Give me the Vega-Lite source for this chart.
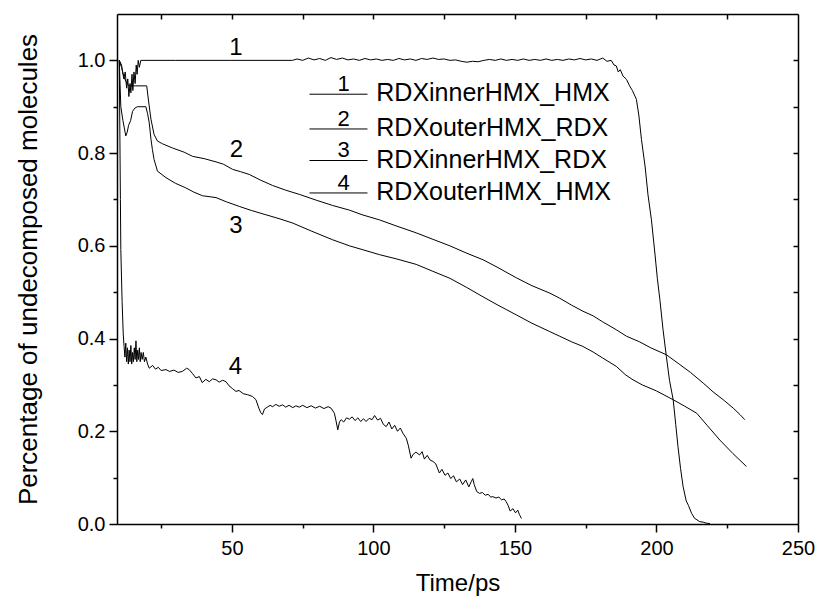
{
  "$schema": "https://vega.github.io/schema/vega-lite/v6.json",
  "width": 681,
  "height": 510,
  "autosize": "none",
  "padding": {"left": 117, "top": 14, "right": 20, "bottom": 78},
  "background": "white",
  "datasets": {
    "curves": [
      {"s":"RDXinnerHMX_HMX","t":10.2,"v":1.0},{"s":"RDXinnerHMX_HMX","t":11.0,"v":0.99},{"s":"RDXinnerHMX_HMX","t":11.8,"v":0.96},{"s":"RDXinnerHMX_HMX","t":12.3,"v":0.975},{"s":"RDXinnerHMX_HMX","t":12.8,"v":0.94},{"s":"RDXinnerHMX_HMX","t":13.2,"v":0.96},{"s":"RDXinnerHMX_HMX","t":13.6,"v":0.922},{"s":"RDXinnerHMX_HMX","t":14.0,"v":0.95},{"s":"RDXinnerHMX_HMX","t":14.3,"v":0.93},{"s":"RDXinnerHMX_HMX","t":14.7,"v":0.97},{"s":"RDXinnerHMX_HMX","t":15.0,"v":0.935},{"s":"RDXinnerHMX_HMX","t":15.4,"v":0.975},{"s":"RDXinnerHMX_HMX","t":15.8,"v":0.95},{"s":"RDXinnerHMX_HMX","t":16.2,"v":0.99},{"s":"RDXinnerHMX_HMX","t":16.5,"v":0.97},{"s":"RDXinnerHMX_HMX","t":16.9,"v":1.0},{"s":"RDXinnerHMX_HMX","t":17.3,"v":0.985},{"s":"RDXinnerHMX_HMX","t":17.8,"v":1.0},{"s":"RDXinnerHMX_HMX","t":30,"v":1.0},{"s":"RDXinnerHMX_HMX","t":50,"v":1.0},{"s":"RDXinnerHMX_HMX","t":71.4,"v":1.0},
      {"s":"RDXinnerHMX_HMX","t":73,"v":1.003},{"s":"RDXinnerHMX_HMX","t":75,"v":1.0},{"s":"RDXinnerHMX_HMX","t":77,"v":1.005},{"s":"RDXinnerHMX_HMX","t":79,"v":1.001},{"s":"RDXinnerHMX_HMX","t":81,"v":1.004},{"s":"RDXinnerHMX_HMX","t":83,"v":1.0},{"s":"RDXinnerHMX_HMX","t":85,"v":1.006},{"s":"RDXinnerHMX_HMX","t":87,"v":1.002},{"s":"RDXinnerHMX_HMX","t":89,"v":1.005},{"s":"RDXinnerHMX_HMX","t":91,"v":1.001},{"s":"RDXinnerHMX_HMX","t":93,"v":1.003},{"s":"RDXinnerHMX_HMX","t":95,"v":1.0},{"s":"RDXinnerHMX_HMX","t":97,"v":1.004},{"s":"RDXinnerHMX_HMX","t":99,"v":1.001},{"s":"RDXinnerHMX_HMX","t":101,"v":1.003},{"s":"RDXinnerHMX_HMX","t":103,"v":1.0},{"s":"RDXinnerHMX_HMX","t":105,"v":1.002},{"s":"RDXinnerHMX_HMX","t":107,"v":1.0},{"s":"RDXinnerHMX_HMX","t":109,"v":1.004},{"s":"RDXinnerHMX_HMX","t":111,"v":1.001},{"s":"RDXinnerHMX_HMX","t":113,"v":1.003},{"s":"RDXinnerHMX_HMX","t":115,"v":1.0},{"s":"RDXinnerHMX_HMX","t":117,"v":1.004},{"s":"RDXinnerHMX_HMX","t":119,"v":1.002},{"s":"RDXinnerHMX_HMX","t":121,"v":1.005},{"s":"RDXinnerHMX_HMX","t":123,"v":1.002},{"s":"RDXinnerHMX_HMX","t":125,"v":1.003},{"s":"RDXinnerHMX_HMX","t":127,"v":1.0},{"s":"RDXinnerHMX_HMX","t":129,"v":1.001},{"s":"RDXinnerHMX_HMX","t":131,"v":0.998},{"s":"RDXinnerHMX_HMX","t":133,"v":0.996},{"s":"RDXinnerHMX_HMX","t":135,"v":0.998},{"s":"RDXinnerHMX_HMX","t":137,"v":0.997},{"s":"RDXinnerHMX_HMX","t":139,"v":1.0},{"s":"RDXinnerHMX_HMX","t":141,"v":1.002},{"s":"RDXinnerHMX_HMX","t":143,"v":1.0},{"s":"RDXinnerHMX_HMX","t":145,"v":1.003},{"s":"RDXinnerHMX_HMX","t":147,"v":1.0},{"s":"RDXinnerHMX_HMX","t":149,"v":1.002},{"s":"RDXinnerHMX_HMX","t":151,"v":1.0},{"s":"RDXinnerHMX_HMX","t":153,"v":1.003},{"s":"RDXinnerHMX_HMX","t":155,"v":1.0},{"s":"RDXinnerHMX_HMX","t":157,"v":1.002},{"s":"RDXinnerHMX_HMX","t":159,"v":1.0},{"s":"RDXinnerHMX_HMX","t":161,"v":1.003},{"s":"RDXinnerHMX_HMX","t":163,"v":1.0},{"s":"RDXinnerHMX_HMX","t":165,"v":1.002},{"s":"RDXinnerHMX_HMX","t":167,"v":1.0},{"s":"RDXinnerHMX_HMX","t":169,"v":1.003},{"s":"RDXinnerHMX_HMX","t":171,"v":1.001},{"s":"RDXinnerHMX_HMX","t":173,"v":1.004},{"s":"RDXinnerHMX_HMX","t":175,"v":1.001},{"s":"RDXinnerHMX_HMX","t":177,"v":1.003},{"s":"RDXinnerHMX_HMX","t":179,"v":1.0},{"s":"RDXinnerHMX_HMX","t":181,"v":1.005},{"s":"RDXinnerHMX_HMX","t":182.5,"v":0.998},{"s":"RDXinnerHMX_HMX","t":184,"v":1.0},{"s":"RDXinnerHMX_HMX","t":185,"v":0.99},{"s":"RDXinnerHMX_HMX","t":185.8,"v":0.988},{"s":"RDXinnerHMX_HMX","t":186.5,"v":0.975},{"s":"RDXinnerHMX_HMX","t":187.2,"v":0.98},{"s":"RDXinnerHMX_HMX","t":188.2,"v":0.966},{"s":"RDXinnerHMX_HMX","t":189.4,"v":0.959},{"s":"RDXinnerHMX_HMX","t":190.5,"v":0.945},{"s":"RDXinnerHMX_HMX","t":191.5,"v":0.935},{"s":"RDXinnerHMX_HMX","t":192.9,"v":0.916},{"s":"RDXinnerHMX_HMX","t":193.8,"v":0.88},{"s":"RDXinnerHMX_HMX","t":194.7,"v":0.829},{"s":"RDXinnerHMX_HMX","t":196,"v":0.77},{"s":"RDXinnerHMX_HMX","t":197,"v":0.71},{"s":"RDXinnerHMX_HMX","t":198.2,"v":0.657},{"s":"RDXinnerHMX_HMX","t":199.5,"v":0.58},{"s":"RDXinnerHMX_HMX","t":200.3,"v":0.53},{"s":"RDXinnerHMX_HMX","t":201.2,"v":0.484},{"s":"RDXinnerHMX_HMX","t":202.3,"v":0.42},{"s":"RDXinnerHMX_HMX","t":203.5,"v":0.361},{"s":"RDXinnerHMX_HMX","t":204.6,"v":0.31},{"s":"RDXinnerHMX_HMX","t":205.9,"v":0.268},{"s":"RDXinnerHMX_HMX","t":206.8,"v":0.215},{"s":"RDXinnerHMX_HMX","t":207.6,"v":0.167},{"s":"RDXinnerHMX_HMX","t":208.5,"v":0.12},{"s":"RDXinnerHMX_HMX","t":209.4,"v":0.081},{"s":"RDXinnerHMX_HMX","t":210.5,"v":0.05},{"s":"RDXinnerHMX_HMX","t":211.3,"v":0.04},{"s":"RDXinnerHMX_HMX","t":212.4,"v":0.023},{"s":"RDXinnerHMX_HMX","t":213.5,"v":0.012},{"s":"RDXinnerHMX_HMX","t":214.3,"v":0.009},{"s":"RDXinnerHMX_HMX","t":215.3,"v":0.005},{"s":"RDXinnerHMX_HMX","t":216.5,"v":0.004},{"s":"RDXinnerHMX_HMX","t":217.5,"v":0.002},{"s":"RDXinnerHMX_HMX","t":218.9,"v":0.001},

      {"s":"RDXouterHMX_RDX","t":10.2,"v":1.0},{"s":"RDXouterHMX_RDX","t":11.0,"v":0.985},{"s":"RDXouterHMX_RDX","t":11.8,"v":0.965},{"s":"RDXouterHMX_RDX","t":12.5,"v":0.955},{"s":"RDXouterHMX_RDX","t":13.2,"v":0.948},{"s":"RDXouterHMX_RDX","t":13.7,"v":0.945},{"s":"RDXouterHMX_RDX","t":16,"v":0.945},{"s":"RDXouterHMX_RDX","t":19.9,"v":0.945},{"s":"RDXouterHMX_RDX","t":20.6,"v":0.91},{"s":"RDXouterHMX_RDX","t":21.4,"v":0.873},{"s":"RDXouterHMX_RDX","t":22.5,"v":0.84},{"s":"RDXouterHMX_RDX","t":23.7,"v":0.826},{"s":"RDXouterHMX_RDX","t":25.5,"v":0.82},{"s":"RDXouterHMX_RDX","t":29.0,"v":0.811},{"s":"RDXouterHMX_RDX","t":33.1,"v":0.802},{"s":"RDXouterHMX_RDX","t":36.1,"v":0.793},{"s":"RDXouterHMX_RDX","t":40.2,"v":0.788},{"s":"RDXouterHMX_RDX","t":44.4,"v":0.781},{"s":"RDXouterHMX_RDX","t":47,"v":0.776},{"s":"RDXouterHMX_RDX","t":50.2,"v":0.765},{"s":"RDXouterHMX_RDX","t":53,"v":0.76},{"s":"RDXouterHMX_RDX","t":56.1,"v":0.754},{"s":"RDXouterHMX_RDX","t":60,"v":0.742},{"s":"RDXouterHMX_RDX","t":64.4,"v":0.73},{"s":"RDXouterHMX_RDX","t":69,"v":0.72},{"s":"RDXouterHMX_RDX","t":73.8,"v":0.711},{"s":"RDXouterHMX_RDX","t":80,"v":0.698},{"s":"RDXouterHMX_RDX","t":85.6,"v":0.687},{"s":"RDXouterHMX_RDX","t":91.5,"v":0.677},{"s":"RDXouterHMX_RDX","t":96,"v":0.667},{"s":"RDXouterHMX_RDX","t":102.1,"v":0.656},{"s":"RDXouterHMX_RDX","t":108,"v":0.643},{"s":"RDXouterHMX_RDX","t":115.1,"v":0.628},{"s":"RDXouterHMX_RDX","t":121,"v":0.614},{"s":"RDXouterHMX_RDX","t":127,"v":0.6},{"s":"RDXouterHMX_RDX","t":133,"v":0.584},{"s":"RDXouterHMX_RDX","t":138.7,"v":0.57},{"s":"RDXouterHMX_RDX","t":144,"v":0.553},{"s":"RDXouterHMX_RDX","t":150.5,"v":0.531},{"s":"RDXouterHMX_RDX","t":156,"v":0.514},{"s":"RDXouterHMX_RDX","t":162.3,"v":0.498},{"s":"RDXouterHMX_RDX","t":165.8,"v":0.487},{"s":"RDXouterHMX_RDX","t":170,"v":0.472},{"s":"RDXouterHMX_RDX","t":174,"v":0.459},{"s":"RDXouterHMX_RDX","t":177.6,"v":0.449},{"s":"RDXouterHMX_RDX","t":181,"v":0.436},{"s":"RDXouterHMX_RDX","t":185.8,"v":0.419},{"s":"RDXouterHMX_RDX","t":189.4,"v":0.405},{"s":"RDXouterHMX_RDX","t":194,"v":0.393},{"s":"RDXouterHMX_RDX","t":198,"v":0.38},{"s":"RDXouterHMX_RDX","t":203.5,"v":0.365},{"s":"RDXouterHMX_RDX","t":208,"v":0.345},{"s":"RDXouterHMX_RDX","t":212,"v":0.327},{"s":"RDXouterHMX_RDX","t":216.5,"v":0.304},{"s":"RDXouterHMX_RDX","t":220,"v":0.285},{"s":"RDXouterHMX_RDX","t":224,"v":0.266},{"s":"RDXouterHMX_RDX","t":227.1,"v":0.25},{"s":"RDXouterHMX_RDX","t":229.5,"v":0.236},{"s":"RDXouterHMX_RDX","t":231.2,"v":0.225},

      {"s":"RDXinnerHMX_RDX","t":10.2,"v":1.0},{"s":"RDXinnerHMX_RDX","t":10.75,"v":0.9},{"s":"RDXinnerHMX_RDX","t":11.5,"v":0.87},{"s":"RDXinnerHMX_RDX","t":12.5,"v":0.837},{"s":"RDXinnerHMX_RDX","t":13.0,"v":0.845},{"s":"RDXinnerHMX_RDX","t":13.5,"v":0.86},{"s":"RDXinnerHMX_RDX","t":14.2,"v":0.87},{"s":"RDXinnerHMX_RDX","t":14.9,"v":0.89},{"s":"RDXinnerHMX_RDX","t":15.7,"v":0.897},{"s":"RDXinnerHMX_RDX","t":16.6,"v":0.9},{"s":"RDXinnerHMX_RDX","t":19.6,"v":0.9},{"s":"RDXinnerHMX_RDX","t":20.2,"v":0.885},{"s":"RDXinnerHMX_RDX","t":20.8,"v":0.865},{"s":"RDXinnerHMX_RDX","t":21.4,"v":0.83},{"s":"RDXinnerHMX_RDX","t":21.9,"v":0.808},{"s":"RDXinnerHMX_RDX","t":22.5,"v":0.786},{"s":"RDXinnerHMX_RDX","t":23.7,"v":0.761},{"s":"RDXinnerHMX_RDX","t":26.7,"v":0.747},{"s":"RDXinnerHMX_RDX","t":30,"v":0.735},{"s":"RDXinnerHMX_RDX","t":33.7,"v":0.725},{"s":"RDXinnerHMX_RDX","t":36.5,"v":0.716},{"s":"RDXinnerHMX_RDX","t":39.6,"v":0.708},{"s":"RDXinnerHMX_RDX","t":44.4,"v":0.704},{"s":"RDXinnerHMX_RDX","t":48,"v":0.695},{"s":"RDXinnerHMX_RDX","t":52.6,"v":0.685},{"s":"RDXinnerHMX_RDX","t":57,"v":0.676},{"s":"RDXinnerHMX_RDX","t":62,"v":0.667},{"s":"RDXinnerHMX_RDX","t":67,"v":0.658},{"s":"RDXinnerHMX_RDX","t":71.5,"v":0.649},{"s":"RDXinnerHMX_RDX","t":78,"v":0.632},{"s":"RDXinnerHMX_RDX","t":85.6,"v":0.613},{"s":"RDXinnerHMX_RDX","t":91.5,"v":0.6},{"s":"RDXinnerHMX_RDX","t":96,"v":0.592},{"s":"RDXinnerHMX_RDX","t":102.1,"v":0.581},{"s":"RDXinnerHMX_RDX","t":108,"v":0.572},{"s":"RDXinnerHMX_RDX","t":115.1,"v":0.56},{"s":"RDXinnerHMX_RDX","t":121,"v":0.545},{"s":"RDXinnerHMX_RDX","t":127,"v":0.53},{"s":"RDXinnerHMX_RDX","t":133,"v":0.51},{"s":"RDXinnerHMX_RDX","t":138.7,"v":0.49},{"s":"RDXinnerHMX_RDX","t":144,"v":0.472},{"s":"RDXinnerHMX_RDX","t":150.5,"v":0.451},{"s":"RDXinnerHMX_RDX","t":156,"v":0.433},{"s":"RDXinnerHMX_RDX","t":162.3,"v":0.415},{"s":"RDXinnerHMX_RDX","t":165.8,"v":0.405},{"s":"RDXinnerHMX_RDX","t":170,"v":0.393},{"s":"RDXinnerHMX_RDX","t":174,"v":0.383},{"s":"RDXinnerHMX_RDX","t":177.6,"v":0.371},{"s":"RDXinnerHMX_RDX","t":181,"v":0.358},{"s":"RDXinnerHMX_RDX","t":185.8,"v":0.34},{"s":"RDXinnerHMX_RDX","t":189,"v":0.322},{"s":"RDXinnerHMX_RDX","t":191.7,"v":0.311},{"s":"RDXinnerHMX_RDX","t":195,"v":0.3},{"s":"RDXinnerHMX_RDX","t":200,"v":0.287},{"s":"RDXinnerHMX_RDX","t":205.9,"v":0.268},{"s":"RDXinnerHMX_RDX","t":210,"v":0.254},{"s":"RDXinnerHMX_RDX","t":214.2,"v":0.239},{"s":"RDXinnerHMX_RDX","t":218,"v":0.212},{"s":"RDXinnerHMX_RDX","t":222.4,"v":0.181},{"s":"RDXinnerHMX_RDX","t":227,"v":0.152},{"s":"RDXinnerHMX_RDX","t":231.8,"v":0.124},

      {"s":"RDXouterHMX_HMX","t":10.2,"v":1.0},{"s":"RDXouterHMX_HMX","t":10.4,"v":0.85},{"s":"RDXouterHMX_HMX","t":10.6,"v":0.7},{"s":"RDXouterHMX_HMX","t":10.75,"v":0.592},{"s":"RDXouterHMX_HMX","t":11.2,"v":0.48},{"s":"RDXouterHMX_HMX","t":11.6,"v":0.41},{"s":"RDXouterHMX_HMX","t":11.9,"v":0.383},{"s":"RDXouterHMX_HMX","t":12.2,"v":0.36},{"s":"RDXouterHMX_HMX","t":12.5,"v":0.39},{"s":"RDXouterHMX_HMX","t":12.8,"v":0.35},{"s":"RDXouterHMX_HMX","t":13.1,"v":0.38},{"s":"RDXouterHMX_HMX","t":13.4,"v":0.345},{"s":"RDXouterHMX_HMX","t":13.7,"v":0.375},{"s":"RDXouterHMX_HMX","t":14.0,"v":0.35},{"s":"RDXouterHMX_HMX","t":14.3,"v":0.385},{"s":"RDXouterHMX_HMX","t":14.6,"v":0.345},{"s":"RDXouterHMX_HMX","t":14.9,"v":0.37},{"s":"RDXouterHMX_HMX","t":15.2,"v":0.35},{"s":"RDXouterHMX_HMX","t":15.5,"v":0.38},{"s":"RDXouterHMX_HMX","t":15.8,"v":0.355},{"s":"RDXouterHMX_HMX","t":16.1,"v":0.395},{"s":"RDXouterHMX_HMX","t":16.4,"v":0.35},{"s":"RDXouterHMX_HMX","t":16.7,"v":0.375},{"s":"RDXouterHMX_HMX","t":17.0,"v":0.355},{"s":"RDXouterHMX_HMX","t":17.3,"v":0.38},{"s":"RDXouterHMX_HMX","t":17.6,"v":0.35},{"s":"RDXouterHMX_HMX","t":17.9,"v":0.37},{"s":"RDXouterHMX_HMX","t":18.3,"v":0.355},{"s":"RDXouterHMX_HMX","t":18.7,"v":0.37},{"s":"RDXouterHMX_HMX","t":19.1,"v":0.35},{"s":"RDXouterHMX_HMX","t":19.6,"v":0.36},{"s":"RDXouterHMX_HMX","t":20.2,"v":0.345},{"s":"RDXouterHMX_HMX","t":20.8,"v":0.336},{"s":"RDXouterHMX_HMX","t":22,"v":0.342},{"s":"RDXouterHMX_HMX","t":23,"v":0.334},{"s":"RDXouterHMX_HMX","t":24,"v":0.338},{"s":"RDXouterHMX_HMX","t":25,"v":0.331},{"s":"RDXouterHMX_HMX","t":26.7,"v":0.333},{"s":"RDXouterHMX_HMX","t":28,"v":0.329},{"s":"RDXouterHMX_HMX","t":29.5,"v":0.332},{"s":"RDXouterHMX_HMX","t":31,"v":0.327},{"s":"RDXouterHMX_HMX","t":32.5,"v":0.329},{"s":"RDXouterHMX_HMX","t":34,"v":0.336},{"s":"RDXouterHMX_HMX","t":34.9,"v":0.333},{"s":"RDXouterHMX_HMX","t":36,"v":0.325},{"s":"RDXouterHMX_HMX","t":37.3,"v":0.315},{"s":"RDXouterHMX_HMX","t":38.5,"v":0.318},{"s":"RDXouterHMX_HMX","t":39.5,"v":0.305},{"s":"RDXouterHMX_HMX","t":40.8,"v":0.312},{"s":"RDXouterHMX_HMX","t":42,"v":0.307},{"s":"RDXouterHMX_HMX","t":43.2,"v":0.313},{"s":"RDXouterHMX_HMX","t":44.4,"v":0.311},{"s":"RDXouterHMX_HMX","t":45.5,"v":0.306},{"s":"RDXouterHMX_HMX","t":46.7,"v":0.31},{"s":"RDXouterHMX_HMX","t":47.9,"v":0.307},{"s":"RDXouterHMX_HMX","t":49,"v":0.298},{"s":"RDXouterHMX_HMX","t":50.2,"v":0.292},{"s":"RDXouterHMX_HMX","t":51.4,"v":0.286},{"s":"RDXouterHMX_HMX","t":52.5,"v":0.288},{"s":"RDXouterHMX_HMX","t":54,"v":0.281},{"s":"RDXouterHMX_HMX","t":55.5,"v":0.279},{"s":"RDXouterHMX_HMX","t":57.3,"v":0.275},{"s":"RDXouterHMX_HMX","t":58.5,"v":0.268},{"s":"RDXouterHMX_HMX","t":59.5,"v":0.25},{"s":"RDXouterHMX_HMX","t":60.2,"v":0.24},{"s":"RDXouterHMX_HMX","t":60.8,"v":0.236},{"s":"RDXouterHMX_HMX","t":61.5,"v":0.248},{"s":"RDXouterHMX_HMX","t":62.5,"v":0.252},{"s":"RDXouterHMX_HMX","t":63.5,"v":0.256},{"s":"RDXouterHMX_HMX","t":64.4,"v":0.253},{"s":"RDXouterHMX_HMX","t":65.5,"v":0.258},{"s":"RDXouterHMX_HMX","t":66.7,"v":0.254},{"s":"RDXouterHMX_HMX","t":67.9,"v":0.257},{"s":"RDXouterHMX_HMX","t":69,"v":0.252},{"s":"RDXouterHMX_HMX","t":70.2,"v":0.256},{"s":"RDXouterHMX_HMX","t":71.5,"v":0.251},{"s":"RDXouterHMX_HMX","t":72.6,"v":0.255},{"s":"RDXouterHMX_HMX","t":73.8,"v":0.252},{"s":"RDXouterHMX_HMX","t":75,"v":0.256},{"s":"RDXouterHMX_HMX","t":76.5,"v":0.251},{"s":"RDXouterHMX_HMX","t":78,"v":0.255},{"s":"RDXouterHMX_HMX","t":79.5,"v":0.25},{"s":"RDXouterHMX_HMX","t":81,"v":0.254},{"s":"RDXouterHMX_HMX","t":82.5,"v":0.249},{"s":"RDXouterHMX_HMX","t":84,"v":0.253},{"s":"RDXouterHMX_HMX","t":85,"v":0.25},{"s":"RDXouterHMX_HMX","t":86.2,"v":0.239},{"s":"RDXouterHMX_HMX","t":86.8,"v":0.222},{"s":"RDXouterHMX_HMX","t":87.4,"v":0.203},{"s":"RDXouterHMX_HMX","t":88,"v":0.22},{"s":"RDXouterHMX_HMX","t":88.6,"v":0.225},{"s":"RDXouterHMX_HMX","t":89.5,"v":0.22},{"s":"RDXouterHMX_HMX","t":90.5,"v":0.229},{"s":"RDXouterHMX_HMX","t":91.5,"v":0.226},{"s":"RDXouterHMX_HMX","t":92.5,"v":0.231},{"s":"RDXouterHMX_HMX","t":93.5,"v":0.223},{"s":"RDXouterHMX_HMX","t":94.5,"v":0.229},{"s":"RDXouterHMX_HMX","t":95.5,"v":0.221},{"s":"RDXouterHMX_HMX","t":96.5,"v":0.227},{"s":"RDXouterHMX_HMX","t":97.4,"v":0.221},{"s":"RDXouterHMX_HMX","t":98.5,"v":0.228},{"s":"RDXouterHMX_HMX","t":99.5,"v":0.225},{"s":"RDXouterHMX_HMX","t":100.4,"v":0.234},{"s":"RDXouterHMX_HMX","t":101.5,"v":0.224},{"s":"RDXouterHMX_HMX","t":102.5,"v":0.228},{"s":"RDXouterHMX_HMX","t":103.5,"v":0.215},{"s":"RDXouterHMX_HMX","t":104.5,"v":0.21},{"s":"RDXouterHMX_HMX","t":105.5,"v":0.22},{"s":"RDXouterHMX_HMX","t":106.5,"v":0.205},{"s":"RDXouterHMX_HMX","t":107.5,"v":0.213},{"s":"RDXouterHMX_HMX","t":108.5,"v":0.2},{"s":"RDXouterHMX_HMX","t":109.5,"v":0.207},{"s":"RDXouterHMX_HMX","t":110.5,"v":0.195},{"s":"RDXouterHMX_HMX","t":111.6,"v":0.185},{"s":"RDXouterHMX_HMX","t":112.3,"v":0.17},{"s":"RDXouterHMX_HMX","t":113.3,"v":0.142},{"s":"RDXouterHMX_HMX","t":114,"v":0.15},{"s":"RDXouterHMX_HMX","t":115,"v":0.155},{"s":"RDXouterHMX_HMX","t":116.3,"v":0.149},{"s":"RDXouterHMX_HMX","t":117.2,"v":0.156},{"s":"RDXouterHMX_HMX","t":118,"v":0.14},{"s":"RDXouterHMX_HMX","t":119,"v":0.148},{"s":"RDXouterHMX_HMX","t":120,"v":0.138},{"s":"RDXouterHMX_HMX","t":121,"v":0.135},{"s":"RDXouterHMX_HMX","t":122,"v":0.13},{"s":"RDXouterHMX_HMX","t":123.3,"v":0.11},{"s":"RDXouterHMX_HMX","t":124.2,"v":0.118},{"s":"RDXouterHMX_HMX","t":125.3,"v":0.105},{"s":"RDXouterHMX_HMX","t":126.3,"v":0.11},{"s":"RDXouterHMX_HMX","t":127.3,"v":0.098},{"s":"RDXouterHMX_HMX","t":128.3,"v":0.104},{"s":"RDXouterHMX_HMX","t":129.3,"v":0.091},{"s":"RDXouterHMX_HMX","t":130.5,"v":0.097},{"s":"RDXouterHMX_HMX","t":131.5,"v":0.085},{"s":"RDXouterHMX_HMX","t":132.6,"v":0.095},{"s":"RDXouterHMX_HMX","t":133.7,"v":0.08},{"s":"RDXouterHMX_HMX","t":134.6,"v":0.092},{"s":"RDXouterHMX_HMX","t":135.1,"v":0.098},{"s":"RDXouterHMX_HMX","t":135.6,"v":0.085},{"s":"RDXouterHMX_HMX","t":136.5,"v":0.07},{"s":"RDXouterHMX_HMX","t":137.5,"v":0.066},{"s":"RDXouterHMX_HMX","t":138.5,"v":0.068},{"s":"RDXouterHMX_HMX","t":139.5,"v":0.062},{"s":"RDXouterHMX_HMX","t":140.5,"v":0.064},{"s":"RDXouterHMX_HMX","t":141.5,"v":0.058},{"s":"RDXouterHMX_HMX","t":142.2,"v":0.059},{"s":"RDXouterHMX_HMX","t":143.3,"v":0.056},{"s":"RDXouterHMX_HMX","t":144.3,"v":0.058},{"s":"RDXouterHMX_HMX","t":145.3,"v":0.052},{"s":"RDXouterHMX_HMX","t":146.2,"v":0.054},{"s":"RDXouterHMX_HMX","t":146.9,"v":0.048},{"s":"RDXouterHMX_HMX","t":147.6,"v":0.04},{"s":"RDXouterHMX_HMX","t":148.3,"v":0.028},{"s":"RDXouterHMX_HMX","t":149.3,"v":0.033},{"s":"RDXouterHMX_HMX","t":150.2,"v":0.024},{"s":"RDXouterHMX_HMX","t":151,"v":0.03},{"s":"RDXouterHMX_HMX","t":151.6,"v":0.02},{"s":"RDXouterHMX_HMX","t":152.3,"v":0.012}
    ],
    "curveLabels": [
      {"n":"1","t":51.4,"v":1.027},
      {"n":"2","t":51.6,"v":0.806},
      {"n":"3","t":51.4,"v":0.642},
      {"n":"4","t":51.2,"v":0.338}
    ],
    "legend": [
      {"n":"1","name":"RDXinnerHMX_HMX","lineStart":77.4,"lineEnd":97.9,"v":0.927,"numV":0.948},
      {"n":"2","name":"RDXouterHMX_RDX","lineStart":77.4,"lineEnd":97.9,"v":0.852,"numV":0.874},
      {"n":"3","name":"RDXinnerHMX_RDX","lineStart":77.4,"lineEnd":97.9,"v":0.784,"numV":0.806},
      {"n":"4","name":"RDXouterHMX_HMX","lineStart":77.4,"lineEnd":97.9,"v":0.714,"numV":0.736}
    ]
  },
  "resolve": {"axis": {"x": "independent", "y": "independent"}},
  "layer": [
    {
      "data": {"name": "curves"},
      "mark": {"type": "line", "color": "black", "strokeWidth": 1, "clip": true},
      "encoding": {
        "x": {"field": "t", "type": "quantitative",
              "scale": {"domain": [9.4, 250], "nice": false, "zero": false},
              "axis": {"orient": "bottom", "title": "Time/ps", "values": [50, 100, 150, 200, 250],
                       "tickSize": 8, "labelPadding": 6, "titlePadding": 13, "labelFlush": false}},
        "y": {"field": "v", "type": "quantitative",
              "scale": {"domain": [0, 1.1], "nice": false, "zero": false},
              "axis": {"orient": "left", "title": "Percentage of undecomposed molecules",
                       "values": [0, 0.2, 0.4, 0.6, 0.8, 1.0], "format": ".1f", "labelFlush": false,
                       "tickSize": 8, "labelPadding": 4, "titlePadding": 36, "titleFontSize": 26}},
        "detail": {"field": "s", "type": "nominal"},
        "order": {"field": "t", "type": "quantitative"}
      }
    },
    {
      "data": {"name": "curveLabels"},
      "mark": {"type": "text", "color": "black", "font": "Liberation Sans", "fontSize": 24, "align": "center", "baseline": "middle"},
      "encoding": {
        "x": {"field": "t", "type": "quantitative",
              "axis": {"orient": "bottom", "title": null, "values": [25, 75, 125, 175, 225],
                       "tickSize": 4, "labels": false, "domain": false}},
        "y": {"field": "v", "type": "quantitative",
              "axis": {"orient": "left", "title": null, "values": [0.1, 0.3, 0.5, 0.7, 0.9],
                       "tickSize": 4, "labels": false, "domain": false}},
        "text": {"field": "n", "type": "nominal"}
      }
    },
    {
      "data": {"name": "legend"},
      "mark": {"type": "rule", "color": "black", "strokeWidth": 1},
      "encoding": {
        "x": {"field": "lineStart", "type": "quantitative",
              "axis": {"orient": "top", "title": null, "values": [25, 50, 75, 100, 125, 150, 175, 200, 225],
                       "tickSize": -5, "labels": false}},
        "x2": {"field": "lineEnd"},
        "y": {"field": "v", "type": "quantitative",
              "axis": {"orient": "right", "title": null, "values": [0.1, 0.2, 0.3, 0.4, 0.5, 0.6, 0.7, 0.8, 0.9, 1.0],
                       "tickSize": -5, "labels": false}}
      }
    },
    {
      "data": {"name": "legend"},
      "mark": {"type": "text", "color": "black", "font": "Liberation Sans", "fontSize": 22, "align": "center", "baseline": "middle"},
      "encoding": {
        "x": {"datum": 89.5, "type": "quantitative", "axis": null},
        "y": {"field": "numV", "type": "quantitative", "axis": null},
        "text": {"field": "n", "type": "nominal"}
      }
    },
    {
      "data": {"name": "legend"},
      "mark": {"type": "text", "color": "black", "font": "Liberation Sans", "fontSize": 25, "align": "left", "baseline": "middle", "dy": -1},
      "encoding": {
        "x": {"datum": 101.0, "type": "quantitative", "axis": null},
        "y": {"field": "v", "type": "quantitative", "axis": null},
        "text": {"field": "name", "type": "nominal"}
      }
    }
  ],
  "config": {
    "view": {"stroke": null},
    "axis": {
      "grid": false,
      "domainColor": "black", "domainWidth": 1.5,
      "tickColor": "black", "tickWidth": 1.5,
      "labelColor": "black", "labelFont": "Liberation Sans", "labelFontSize": 20,
      "titleColor": "black", "titleFont": "Liberation Sans", "titleFontSize": 24, "titleFontWeight": "normal"
    }
  }
}
